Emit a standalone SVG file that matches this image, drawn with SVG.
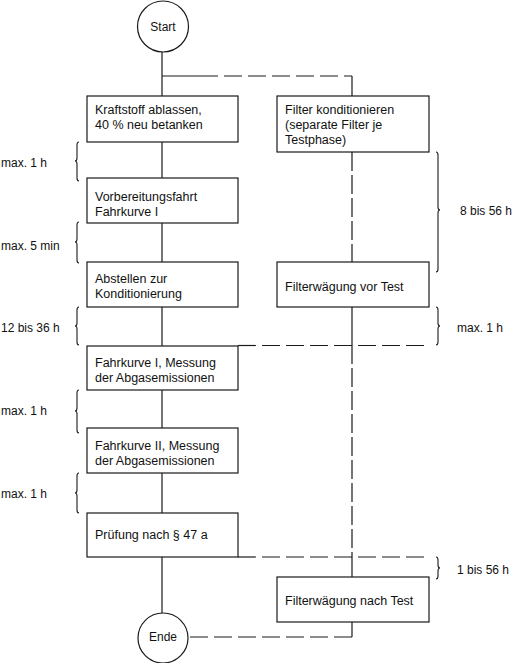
<svg xmlns="http://www.w3.org/2000/svg" width="514" height="663" viewBox="0 0 514 663">
<style>
.box{fill:#fff;stroke:#1a1a1a;stroke-width:1.2}
.t{font-family:"Liberation Sans",Arial,sans-serif;font-size:12px;fill:#111}
.b{font-size:12.5px}
.c{text-anchor:middle}
.ln{fill:none;stroke:#1a1a1a;stroke-width:1.2}
.d{stroke-dasharray:18 6}
.v{stroke-dasharray:19 4}
.br{fill:none;stroke:#1a1a1a;stroke-width:1.1}
</style>
<rect width="514" height="663" fill="#fff"/>
<g id="connectors">
<line class="ln" x1="162" y1="52" x2="162" y2="613"/>
<line class="ln" x1="162" y1="76" x2="200" y2="76"/>
<line class="ln d" x1="200" y1="76" x2="352" y2="76"/>
<line class="ln" x1="352" y1="76" x2="352" y2="96"/>
<line class="ln v" x1="352" y1="152" x2="352" y2="262"/>
<line class="ln" x1="352" y1="307" x2="352" y2="345"/>
<line class="ln d" x1="238" y1="345.5" x2="430" y2="345.5"/>
<line class="ln v" x1="352" y1="345" x2="352" y2="557"/>
<line class="ln d" x1="238" y1="557" x2="430" y2="557"/>
<line class="ln" x1="352" y1="557" x2="352" y2="577"/>
<line class="ln" x1="352" y1="622" x2="352" y2="637"/>
<line class="ln d" x1="352" y1="637" x2="188" y2="637"/>
</g>
<g id="start">
<circle class="box" cx="163" cy="26.5" r="25.5"/>
<text class="t c" x="163" y="31">Start</text>
</g>
<g id="n1">
<rect class="box" x="87" y="96" width="151" height="46"/>
<text class="t b" x="95" y="114">Kraftstoff ablassen,</text>
<text class="t b" x="95" y="129">40 % neu betanken</text>
</g>
<g id="r1">
<rect class="box" x="277" y="96" width="152" height="56"/>
<text class="t b" x="285" y="114">Filter konditionieren</text>
<text class="t b" x="285" y="129">(separate Filter je</text>
<text class="t b" x="285" y="144">Testphase)</text>
</g>
<g id="n2">
<rect class="box" x="87" y="178" width="151" height="45"/>
<text class="t b" x="95" y="201">Vorbereitungsfahrt</text>
<text class="t b" x="95" y="216">Fahrkurve I</text>
</g>
<g id="n3">
<rect class="box" x="87" y="262" width="151" height="45"/>
<text class="t b" x="95" y="283">Abstellen zur</text>
<text class="t b" x="95" y="298">Konditionierung</text>
</g>
<g id="r2">
<rect class="box" x="277" y="262" width="152" height="45"/>
<text class="t b" x="285" y="291">Filterwägung vor Test</text>
</g>
<g id="n4">
<rect class="box" x="87" y="346" width="151" height="44"/>
<text class="t b" x="95" y="367">Fahrkurve I, Messung</text>
<text class="t b" x="95" y="382">der Abgasemissionen</text>
</g>
<g id="n5">
<rect class="box" x="87" y="428" width="151" height="45"/>
<text class="t b" x="95" y="450">Fahrkurve II, Messung</text>
<text class="t b" x="95" y="465">der Abgasemissionen</text>
</g>
<g id="n6">
<rect class="box" x="87" y="513" width="151" height="44"/>
<text class="t b" x="95" y="539">Prüfung nach § 47 a</text>
</g>
<g id="r3">
<rect class="box" x="277" y="577" width="152" height="45"/>
<text class="t b" x="285" y="605">Filterwägung nach Test</text>
</g>
<g id="ende">
<circle class="box" cx="163" cy="638" r="25"/>
<text class="t c" x="163" y="641">Ende</text>
</g>
<g id="braces">
<path class="br" d="M79,142 Q77,142 77,145 L77,158 Q77,161 75,161 Q77,161 77,164 L77,178 Q77,181 79,181"/>
<path class="br" d="M79,222 Q77,222 77,225 L77,239 Q77,242 75,242 Q77,242 77,245 L77,260 Q77,263 79,263"/>
<path class="br" d="M79,307 Q77,307 77,310 L77,323 Q77,326 75,326 Q77,326 77,329 L77,342 Q77,345 79,345"/>
<path class="br" d="M79,390 Q77,390 77,393 L77,408 Q77,411 75,411 Q77,411 77,414 L77,430 Q77,433 79,433"/>
<path class="br" d="M79,473 Q77,473 77,476 L77,490 Q77,493 75,493 Q77,493 77,496 L77,510 Q77,513 79,513"/>
<path class="br" d="M436,152 Q438,152 438,155 L438,207 Q438,210 440,210 Q438,210 438,213 L438,269 Q438,272 436,272"/>
<path class="br" d="M436,307 Q438,307 438,310 L438,323 Q438,326 440,326 Q438,326 438,329 L438,342 Q438,345 436,345"/>
<path class="br" d="M436,557 Q438,557 438,560 L438,565 Q438,568 440,568 Q438,568 438,571 L438,576 Q438,579 436,579"/>
</g>
<g id="labels">
<text class="t" x="1" y="167">max. 1 h</text>
<text class="t" x="1" y="250">max. 5 min</text>
<text class="t" x="1" y="332">12 bis 36 h</text>
<text class="t" x="1" y="415">max. 1 h</text>
<text class="t" x="1" y="498">max. 1 h</text>
<text class="t" x="460" y="215">8 bis 56 h</text>
<text class="t" x="457" y="332">max. 1 h</text>
<text class="t" x="457" y="574">1 bis 56 h</text>
</g>
</svg>
